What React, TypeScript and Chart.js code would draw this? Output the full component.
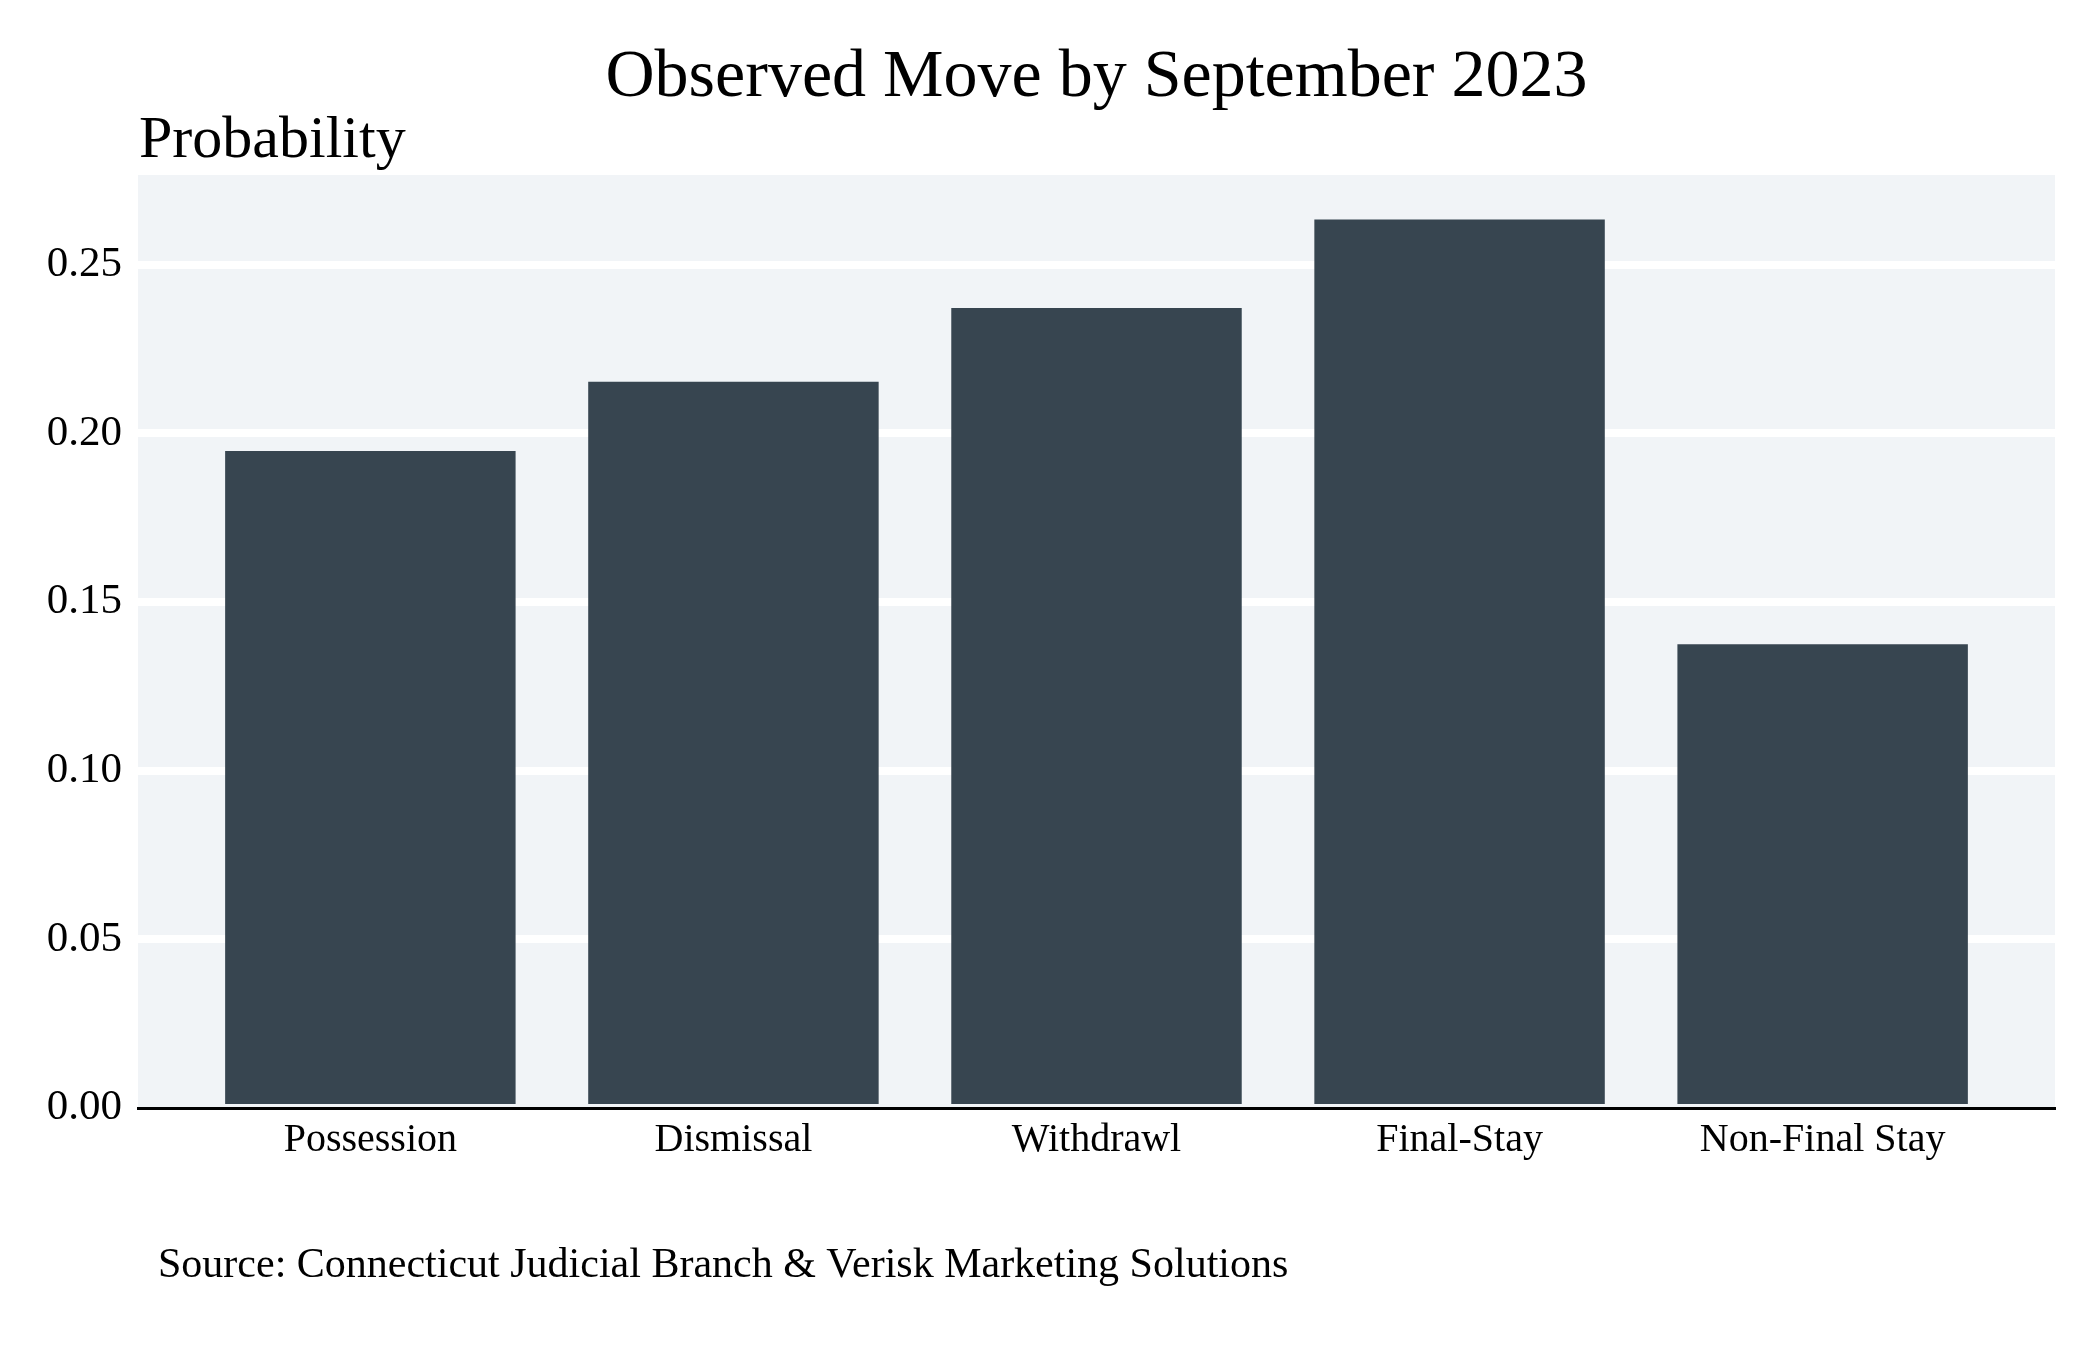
import React, { useEffect, useRef } from 'react';
import { Chart, registerables } from 'chart.js';

Chart.register(...registerables);

// ---- data ----
const categories = ['Possession', 'Dismissal', 'Withdrawl', 'Final-Stay', 'Non-Final Stay'];
const probabilities = [0.1948, 0.2153, 0.2372, 0.2634, 0.1375];
const yTickValues = [0, 0.05, 0.1, 0.15, 0.2, 0.25];
const yTickLabels = ['0.00', '0.05', '0.10', '0.15', '0.20', '0.25'];
const titleText = 'Observed Move by September 2023';
const yAxisTitle = 'Probability';
const sourceText = 'Source: Connecticut Judicial Branch & Verisk Marketing Solutions';

// ---- style ----
const FONT = '"Liberation Serif", "DejaVu Serif", serif';
const BAR_COLOR = '#374550';
const PANEL_COLOR = '#f1f4f7';

const decorPlugin = {
  id: 'decor',
  beforeDraw(chart: any) {
    const { ctx, chartArea: a } = chart;
    ctx.save();
    ctx.fillStyle = '#ffffff';
    ctx.fillRect(0, 0, chart.width, chart.height);
    ctx.fillStyle = PANEL_COLOR;
    ctx.fillRect(a.left, a.top, a.right - a.left, a.bottom - a.top);
    ctx.restore();
  },
  afterDraw(chart: any) {
    const { ctx, chartArea: a } = chart;
    ctx.save();
    ctx.fillStyle = '#000000';
    ctx.textBaseline = 'alphabetic';
    ctx.font = `68px ${FONT}`;
    ctx.textAlign = 'center';
    ctx.fillText(titleText, (a.left + a.right) / 2, 96);
    ctx.font = `60px ${FONT}`;
    ctx.textAlign = 'left';
    ctx.fillText(yAxisTitle, a.left + 1, 157);
    ctx.font = `42px ${FONT}`;
    ctx.fillText(sourceText, 158, 1277);
    ctx.restore();
  },
};

export default function App() {
  const canvasRef = useRef<HTMLCanvasElement | null>(null);

  useEffect(() => {
    const canvas = canvasRef.current;
    if (!canvas) return;
    const chart = new Chart(canvas, {
      type: 'bar',
      data: {
        datasets: [
          {
            data: categories.map((_, i) => ({ x: i, y: probabilities[i] })),
            backgroundColor: BAR_COLOR,
            borderWidth: 0,
            borderSkipped: false,
            categoryPercentage: 1.0,
            barPercentage: 0.8,
          },
        ],
      },
      options: {
        animation: false,
        responsive: false,
        devicePixelRatio: 1,
        layout: { padding: { top: 175, right: 45, bottom: 0, left: 0 } },
        plugins: {
          legend: { display: false },
          title: { display: false },
          tooltip: { enabled: false },
        },
        scales: {
          x: {
            type: 'linear',
            min: -0.64,
            max: 4.64,
            offset: false,
            z: 1,
            afterBuildTicks: (axis: any) => {
              axis.ticks = categories.map((_, i) => ({ value: i }));
            },
            afterFit: (scale: any) => {
              scale.height = 242;
            },
            grid: { display: false, drawTicks: false, offset: false },
            border: { display: true, color: '#000000', width: 3 },
            ticks: {
              autoSkip: false,
              maxRotation: 0,
              padding: 8,
              color: '#000000',
              font: { family: FONT, size: 40 },
              callback: (_v: any, i: number) => categories[i],
            },
          },
          y: {
            min: 0,
            max: 0.2766,
            afterBuildTicks: (axis: any) => {
              axis.ticks = yTickValues.map((v) => ({ value: v }));
            },
            afterFit: (scale: any) => {
              scale.width = 138;
            },
            grid: {
              drawTicks: false,
              lineWidth: 8,
              color: (c: any) => (c.tick && c.tick.value === 0 ? 'rgba(0,0,0,0)' : '#ffffff'),
            },
            border: { display: false },
            ticks: {
              padding: 16,
              color: '#000000',
              font: { family: FONT, size: 43 },
              callback: (_v: any, i: number) => yTickLabels[i],
            },
          },
        },
      },
      plugins: [decorPlugin],
    } as any);
    return () => chart.destroy();
  }, []);

  return (
    <div style={{ position: 'absolute', left: 0, top: 0, width: 2100, height: 1350, background: '#fff' }}>
      <canvas ref={canvasRef} width={2100} height={1350} style={{ width: 2100, height: 1350, display: 'block' }} />
    </div>
  );
}
